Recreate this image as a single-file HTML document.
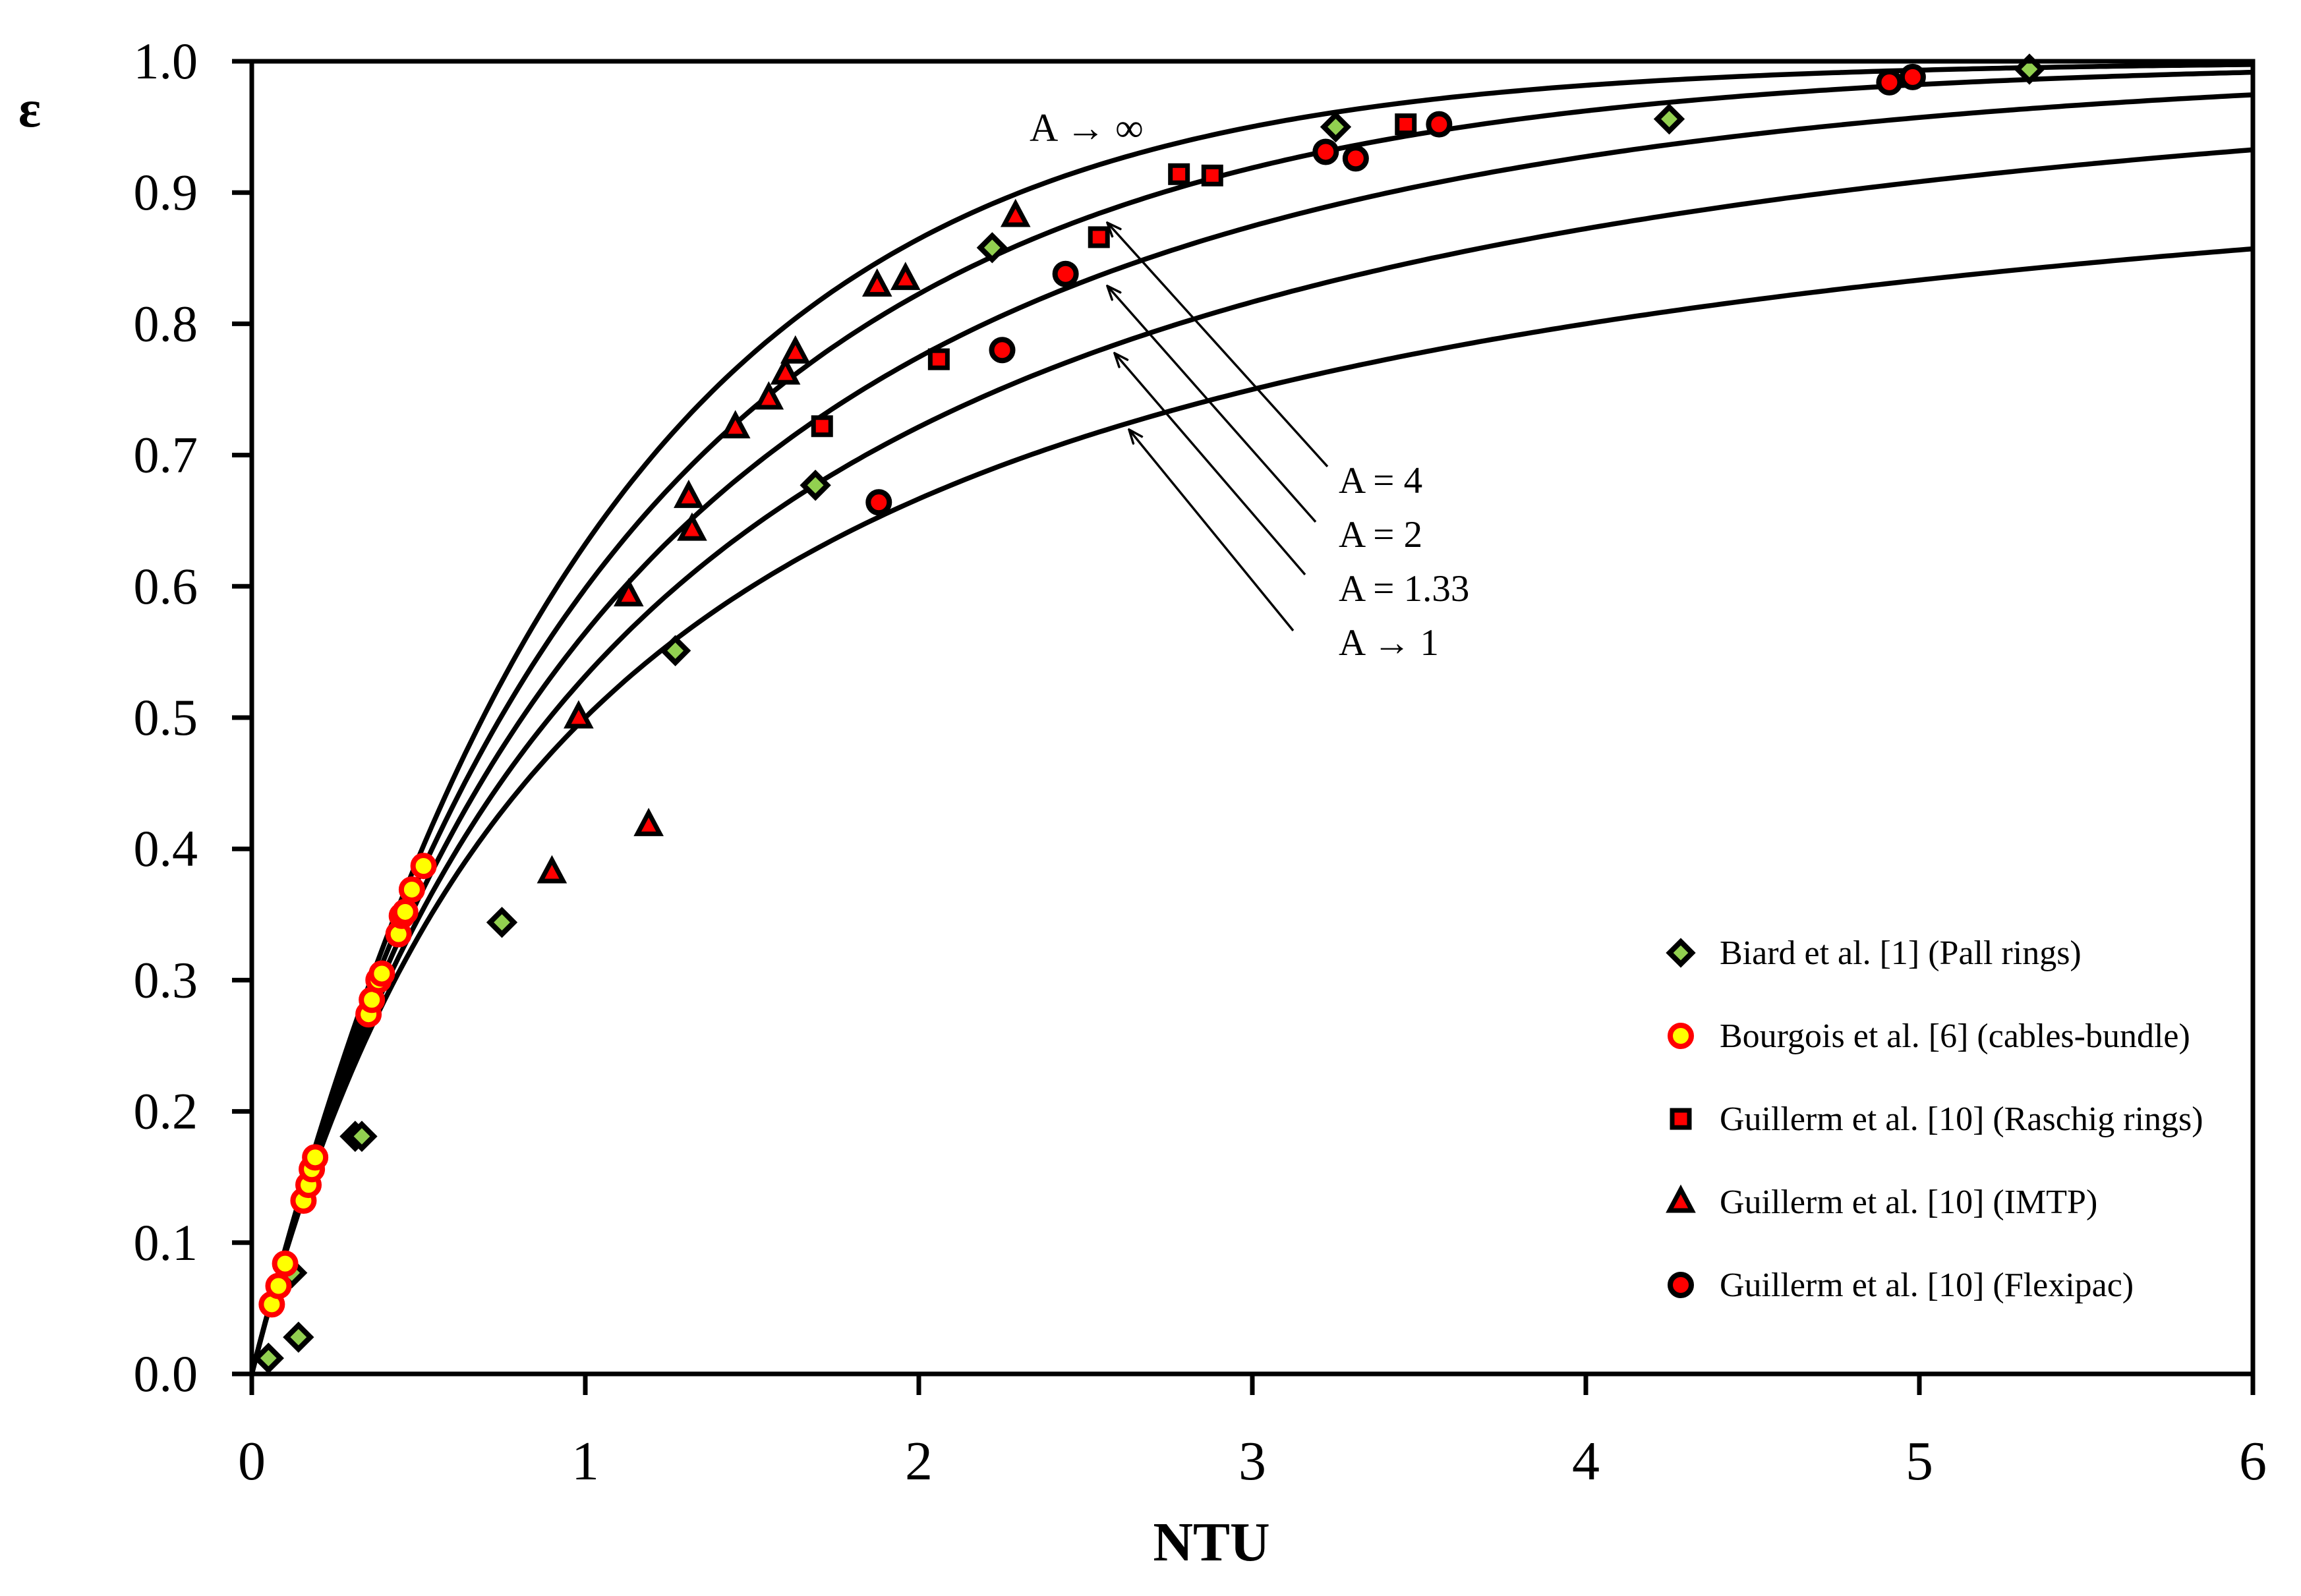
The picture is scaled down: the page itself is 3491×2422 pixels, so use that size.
<!DOCTYPE html>
<html><head><meta charset="utf-8"><style>
html,body{margin:0;padding:0;background:#fff}
svg{display:block}
text{font-family:"Liberation Serif",serif;fill:#000}
</style></head><body>
<svg id="chart" width="3491" height="2422" viewBox="0 0 3491 2422" xmlns="http://www.w3.org/2000/svg">
<defs><marker id="ah" markerWidth="24" markerHeight="20" refX="22" refY="10" orient="auto" markerUnits="userSpaceOnUse"><path d="M0,1 L22,10 L0,19" fill="none" stroke="#000" stroke-width="3.5"/></marker></defs>
<g id="curves"></g>
<g id="pts"></g>
<g id="axes"></g>
<g id="ann"></g>
<g id="leg"></g>
</svg>
<script>
const xTicks=[0,1,2,3,4,5,6];
const yTicks=[0,0.1,0.2,0.3,0.4,0.5,0.6,0.7,0.8,0.9,1.0];
const yTickLabels=["0.0","0.1","0.2","0.3","0.4","0.5","0.6","0.7","0.8","0.9","1.0"];
const curveA=[Infinity,4,2,1.33,1];
const biardX=[0.05,0.14,0.12,0.31,0.33,0.75,1.27,1.69,2.22,3.25,4.25,5.33];
const biardY=[0.012,0.028,0.077,0.181,0.181,0.344,0.551,0.677,0.858,0.95,0.956,0.994];
const bourgX=[0.06,0.08,0.10,0.155,0.17,0.18,0.19,0.35,0.36,0.38,0.39,0.44,0.45,0.46,0.48,0.515];
const bourgY=[0.053,0.067,0.084,0.132,0.144,0.156,0.165,0.274,0.285,0.300,0.305,0.335,0.349,0.352,0.369,0.387];
const raschX=[1.71,2.06,2.54,2.78,2.88,3.46];
const raschY=[0.722,0.773,0.866,0.914,0.913,0.952];
const imtpX=[0.98,0.90,1.19,1.13,1.31,1.32,1.45,1.55,1.60,1.63,1.875,1.96,2.29];
const imtpY=[0.50,0.382,0.418,0.593,0.668,0.643,0.721,0.743,0.762,0.778,0.829,0.834,0.882];
const flexX=[1.88,2.25,2.44,3.22,3.31,3.56,4.91,4.98];
const flexY=[0.664,0.78,0.838,0.931,0.926,0.952,0.984,0.988];

const L=382,R=3418,T=93,B=2085;
const sx=v=>L+(R-L)*v/6, sy=v=>B-(B-T)*v;
const NS="http://www.w3.org/2000/svg";
function mk(tag,attrs,parent){const e=document.createElementNS(NS,tag);for(const k in attrs)e.setAttribute(k,attrs[k]);parent.appendChild(e);return e;}
const gC=document.getElementById('curves'),gP=document.getElementById('pts'),gA=document.getElementById('axes'),gN=document.getElementById('ann'),gL=document.getElementById('leg');

function eff(n,A){if(!isFinite(A))return 1-Math.exp(-n);const r=1/A;if(Math.abs(1-r)<1e-9)return n/(1+n);const e=Math.exp(-n*(1-r));return (1-e)/(1-r*e);}
curveA.forEach(A=>{let d="";for(let i=0;i<=300;i++){const n=6*i/300;d+=(i?"L":"M")+sx(n).toFixed(1)+","+sy(eff(n,A)).toFixed(1);}
const p=mk('path',{d:d,fill:'none',stroke:'#000','stroke-width':7.5},gC);

});

function diamond(x,y,g,r){return mk('path',{d:`M${x},${y-r}L${x+r},${y}L${x},${y+r}L${x-r},${y}Z`,fill:'#92d050',stroke:'#000','stroke-width':8},g);}
function circ(x,y,g,f,s){return mk('circle',{cx:x,cy:y,r:16,fill:f,stroke:s,'stroke-width':8},g);}
function sq(x,y,g){return mk('rect',{x:x-13,y:y-13,width:26,height:26,fill:'#f00',stroke:'#000','stroke-width':7},g);}
function tri(x,y,g){return mk('path',{d:`M${x},${y-19}L${x+17},${y+13}L${x-17},${y+13}Z`,fill:'#f00',stroke:'#000','stroke-width':7},g);}

biardX.forEach((v,i)=>{const e=diamond(sx(v),sy(biardY[i]),gP,18);

});
bourgX.forEach((v,i)=>{const e=circ(sx(v),sy(bourgY[i]),gP,'#ff0','#f00');

});
raschX.forEach((v,i)=>{const e=sq(sx(v),sy(raschY[i]),gP);

});
imtpX.forEach((v,i)=>{const e=tri(sx(v),sy(imtpY[i]),gP);

});
flexX.forEach((v,i)=>{const e=circ(sx(v),sy(flexY[i]),gP,'#f00','#000');

});

const fr=mk('rect',{x:L,y:T,width:R-L,height:B-T,fill:'none',stroke:'#000','stroke-width':7},gA);


yTicks.forEach((v,i)=>{const y=sy(v);
const t=mk('line',{x1:L-30,x2:L,y1:y,y2:y,stroke:'#000','stroke-width':7},gA);


const tx=mk('text',{x:300,y:y+26,'text-anchor':'end','font-size':78},gA);tx.textContent=yTickLabels[i];

});
xTicks.forEach(v=>{const x=sx(v);
const t=mk('line',{x1:x,x2:x,y1:B,y2:B+32,stroke:'#000','stroke-width':7},gA);


const tx=mk('text',{x:x,y:2245,'text-anchor':'middle','font-size':84},gA);tx.textContent=String(v);

});
const xt=mk('text',{x:1838,y:2368,'text-anchor':'middle','font-size':84,'font-weight':'bold'},gA);xt.textContent='NTU';


const yt=mk('text',{x:45,y:192,'text-anchor':'middle','font-size':80,'font-weight':'bold'},gA);yt.textContent='ε';



const a0=mk('text',{x:1562,y:214,'font-size':60},gN);a0.textContent='A → ∞';


const annTxt=['A = 4','A = 2','A = 1.33','A → 1'];
const annY=[748,830,912,994];
const arr=[[2014,708,1680,338],[1996,792,1680,434],[1980,872,1691,536],[1962,957,1713,652]];
annTxt.forEach((s,i)=>{const t=mk('text',{x:2031,y:annY[i],'font-size':57},gN);t.textContent=s;


const a=arr[i];const ln=mk('line',{x1:a[0],y1:a[1],x2:a[2],y2:a[3],stroke:'#000','stroke-width':3.5,'marker-end':'url(#ah)'},gN);

});

const legTxt=['Biard et al. [1] (Pall rings)','Bourgois et al. [6] (cables-bundle)','Guillerm et al. [10] (Raschig rings)','Guillerm et al. [10] (IMTP)','Guillerm et al. [10] (Flexipac)'];
const legY=[1446,1572,1698,1824,1950];
legTxt.forEach((s,i)=>{const y=legY[i],x=2550;let m;
if(i==0)m=diamond(x,y,gL,17);else if(i==1)m=circ(x,y,gL,'#ff0','#f00');else if(i==2)m=sq(x,y,gL);else if(i==3)m=tri(x,y,gL);else m=circ(x,y,gL,'#f00','#000');


const t=mk('text',{x:2609,y:y+17,'font-size':52},gL);t.textContent=s;

});
</script>
</body></html>
